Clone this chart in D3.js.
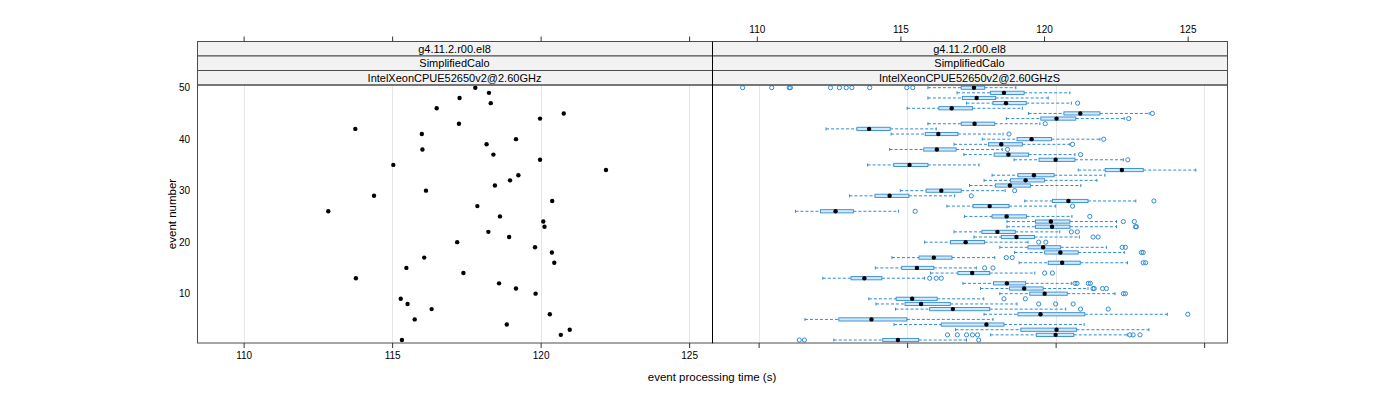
<!DOCTYPE html>
<meta charset="utf-8">
<style>
body { margin: 0; background: #fff; }
svg text { font-family: "Liberation Sans", Arial, sans-serif; fill: #000; }
.axis path { fill: none; stroke: none; }
.axis line { stroke: #333; }
</style>
<head>
    <title>Event processing time</title>
</head>

<script src="https://d3js.org/d3.v7.min.js"></script>

<div id="viz"></div>

<script>
// event number (y categories)
var eventNumber = [1,2,3,4,5,6,7,8,9,10,11,12,13,14,15,16,17,18,19,20,21,22,23,24,25,
                   26,27,28,29,30,31,32,33,34,35,36,37,38,39,40,41,42,43,44,45,46,47,48,49,50];

// left panel: one time per event (s)
var timeIntel = [115.33,120.68,120.98,118.86,115.76,120.31,116.33,115.52,115.29,119.83,
                 119.17,118.60,113.78,117.40,115.48,120.46,116.08,120.38,119.81,117.19,
                 118.94,118.24,120.13,120.09,118.63,112.85,117.87,120.39,114.39,116.14,
                 118.46,118.97,119.25,122.20,115.04,119.98,118.41,116.02,118.18,119.17,
                 116.00,113.76,117.25,119.98,120.78,116.50,118.32,117.27,118.26,117.80];

// right panel: box and whisker stats per event
var boxLow  = [112.53,117.81,116.63,114.56,111.56,117.59,114.61,113.95,113.71,118.12,
               117.47,116.88,112.16,115.79,113.93,118.77,114.49,118.62,118.12,115.59,
               117.25,116.58,118.36,118.36,116.93,111.24,116.34,118.96,113.06,114.77,
               117.10,117.59,117.86,120.76,113.67,118.60,116.91,114.41,116.58,117.53,
               114.46,112.27,115.70,118.34,119.09,115.00,117.00,115.70,116.68,115.70];
var boxQ1   = [114.18,119.35,118.83,116.15,112.70,118.73,115.76,114.93,114.63,119.13,
               118.45,117.91,113.11,116.71,114.82,119.75,115.40,119.63,119.07,116.46,
               118.17,117.52,119.32,119.32,117.86,112.08,117.22,119.89,113.92,115.64,
               117.97,118.48,118.73,121.67,114.55,119.44,117.93,115.56,117.74,118.70,
               115.61,113.31,116.82,119.50,120.28,116.07,117.89,116.86,117.81,116.82];
var boxMed  = [114.69,120.00,120.03,117.67,113.80,119.49,116.54,115.47,115.17,119.63,
               118.94,118.36,113.56,117.19,115.33,120.22,115.90,120.16,119.58,116.97,
               118.68,118.04,119.88,119.84,118.35,112.59,117.78,120.43,114.41,116.15,
               118.46,118.99,119.27,122.23,115.08,120.00,118.41,116.00,118.17,119.19,
               116.05,113.72,117.27,120.03,120.83,116.50,118.33,117.34,118.26,117.25];
var boxQ3   = [115.39,120.61,120.70,118.26,114.99,120.98,117.78,116.45,116.01,120.39,
               119.58,118.99,114.15,117.78,115.90,120.83,116.51,120.76,120.17,117.61,
               119.29,118.64,120.48,120.48,119.02,113.19,118.43,121.09,115.06,116.82,
               119.15,119.63,119.95,122.95,115.70,120.65,119.09,116.65,118.88,119.86,
               116.71,114.43,117.95,120.68,121.49,117.20,119.01,117.98,118.94,117.61];
var boxHigh = [117.00,122.41,123.14,120.96,117.89,123.76,120.34,118.70,117.58,122.00,
               121.09,120.53,115.59,119.30,117.33,122.42,117.95,122.31,121.71,119.07,
               120.80,120.14,122.05,122.05,120.55,114.71,120.00,122.70,116.60,118.30,
               120.85,121.39,121.66,124.72,117.42,122.28,120.65,118.20,120.48,121.49,
               118.23,115.98,119.47,122.31,123.15,118.88,120.53,119.75,120.48,118.66];
var boxOut = [
  [111.37,111.54,117.41],
  [116.36,116.69,117.00,117.20,117.37,122.50,122.61,122.84],
  [], [], [],
  [124.45],
  [120.84,121.77],
  [119.43,120.00,120.59],
  [118.26,118.98],
  [122.28,122.35],
  [121.26,121.30,121.58,121.71],
  [120.65,120.72,121.10,121.17],
  [115.76,115.98,116.15],
  [119.63,119.89],
  [117.61,117.89],
  [122.95,123.03],
  [118.34,118.54],
  [122.89,122.95],
  [122.24,122.35],
  [119.43,119.67],
  [121.26,121.43],
  [120.53,120.73],
  [122.69,122.72],
  [122.28,122.65],
  [121.15],
  [115.27],
  [120.57],
  [123.31],
  [117.16],
  [118.62],
  [], [], [], [], [],
  [122.43],
  [120.84],
  [118.38],
  [120.57],
  [121.62],
  [118.43],
  [],
  [119.65],
  [122.46],
  [123.26],
  [],
  [120.74],
  [], [],
  [109.46,110.44,111.03,111.07,112.42,112.72,112.95,113.14,113.74,114.99,115.19]
];

var xTicks = [110, 115, 120, 125];
var yTicks = [10, 20, 30, 40, 50];
var stripLeft  = ["g4.11.2.r00.el8", "SimplifiedCalo", "IntelXeonCPUE52650v2@2.60GHz"];
var stripRight = ["g4.11.2.r00.el8", "SimplifiedCalo", "IntelXeonCPUE52650v2@2.60GHzS"];

var width = 1400, height = 400;
var panelTop = 85, panelBottom = 343;
var stripTop = 41.5, stripH = 14.5;
var p1 = [197, 712], p2 = [712, 1227];
var blue = "#2f8ad6";

var svg = d3.select('#viz')
    .append('svg')
        .attr('width', width)
        .attr('height', height);

svg.append('rect').attr('width', width).attr('height', height).attr('fill', '#fff');

var xL = d3.scaleLinear().domain([108.43, 125.77]).range(p1);
var xR = d3.scaleLinear().domain([108.43, 125.77]).range(p2);
var xTop = d3.scaleLinear().domain([108.44, 126.37]).range(p2);
var y = d3.scaleLinear().domain([0.42, 50.52]).range([panelBottom, panelTop]);

// gridlines
[xL, xR].forEach(function(sc) {
  svg.append('g')
    .selectAll('line')
    .data(xTicks)
    .enter()
    .append('line')
      .attr('x1', function(d) { return Math.round(sc(d)) + 0.5; })
      .attr('x2', function(d) { return Math.round(sc(d)) + 0.5; })
      .attr('y1', panelTop)
      .attr('y2', panelBottom)
      .attr('stroke', '#e6e6e6');
});

// left panel dots
svg.append('g')
  .selectAll('circle')
  .data(eventNumber)
  .enter()
  .append('circle')
    .attr('cx', function(d, i) { return xL(timeIntel[i]); })
    .attr('cy', function(d) { return y(d); })
    .attr('r', 2.2)
    .attr('fill', '#000');

// right panel box plots
var bw = svg.append('g');
eventNumber.forEach(function(ev, i) {
  var yy = y(ev), g = bw.append('g');
  g.append('line')
    .attr('x1', xR(boxLow[i])).attr('x2', xR(boxQ1[i]))
    .attr('y1', yy).attr('y2', yy)
    .attr('stroke', blue).attr('stroke-dasharray', '3,2');
  g.append('line')
    .attr('x1', xR(boxQ3[i])).attr('x2', xR(boxHigh[i]))
    .attr('y1', yy).attr('y2', yy)
    .attr('stroke', blue).attr('stroke-dasharray', '3,2');
  [boxLow[i], boxHigh[i]].forEach(function(v) {
    g.append('line')
      .attr('x1', xR(v)).attr('x2', xR(v))
      .attr('y1', yy - 1.5).attr('y2', yy + 1.5)
      .attr('stroke', blue);
  });
  g.append('rect')
    .attr('x', xR(boxQ1[i]))
    .attr('y', yy - 1.6)
    .attr('width', xR(boxQ3[i]) - xR(boxQ1[i]))
    .attr('height', 3.2)
    .attr('fill', '#d2e9f9')
    .attr('stroke', blue)
    .attr('stroke-width', 0.9);
  g.selectAll('circle.out')
    .data(boxOut[i])
    .enter()
    .append('circle')
      .attr('cx', function(d) { return xR(d); })
      .attr('cy', yy)
      .attr('r', 2.1)
      .attr('fill', 'none')
      .attr('stroke', blue);
  g.append('circle')
    .attr('cx', xR(boxMed[i]))
    .attr('cy', yy)
    .attr('r', 2.2)
    .attr('fill', '#000');
});

// strips
[[p1, stripLeft], [p2, stripRight]].forEach(function(s) {
  var r = s[0];
  s[1].forEach(function(lab, k) {
    svg.append('rect')
      .attr('x', r[0] + 0.5)
      .attr('y', stripTop + k * stripH)
      .attr('width', r[1] - r[0])
      .attr('height', stripH)
      .attr('fill', '#f2f2f2')
      .attr('stroke', '#4d4d4d');
    svg.append('text')
      .attr('x', (r[0] + r[1]) / 2)
      .attr('y', stripTop + k * stripH + stripH / 2 + 4)
      .attr('text-anchor', 'middle')
      .style('font-size', '11px')
      .text(lab);
  });
});

// panel borders
[p1, p2].forEach(function(r) {
  svg.append('rect')
    .attr('x', r[0] + 0.5)
    .attr('y', panelTop)
    .attr('width', r[1] - r[0])
    .attr('height', panelBottom - panelTop)
    .attr('fill', 'none')
    .attr('stroke', '#4d4d4d');
});
svg.append('line')
  .attr('x1', p1[1] + 0.5).attr('x2', p1[1] + 0.5)
  .attr('y1', stripTop).attr('y2', panelBottom)
  .attr('stroke', '#000');

// axes
svg.append('g')
  .attr('class', 'axis')
  .attr('transform', 'translate(0,' + panelBottom + ')')
  .call(d3.axisBottom(xL).tickValues(xTicks).tickSize(5).tickPadding(4))
  .selectAll('text').style('font-size', '10px');
svg.append('g')
  .attr('class', 'axis')
  .attr('transform', 'translate(0,' + panelBottom + ')')
  .call(d3.axisBottom(xR).tickValues(xTicks).tickSize(5).tickFormat(''));
svg.append('g')
  .attr('class', 'axis')
  .attr('transform', 'translate(0,' + stripTop + ')')
  .call(d3.axisTop(xL).tickValues(xTicks).tickSize(5).tickFormat(''));
svg.append('g')
  .attr('class', 'axis')
  .attr('transform', 'translate(0,' + stripTop + ')')
  .call(d3.axisTop(xTop).tickValues(xTicks).tickSize(5).tickPadding(4))
  .selectAll('text').style('font-size', '10px');
svg.append('g')
  .attr('class', 'axis')
  .attr('transform', 'translate(' + p1[0] + ',0)')
  .call(d3.axisLeft(y).tickValues(yTicks).tickSize(0).tickPadding(7))
  .selectAll('text').style('font-size', '10px');

// axis titles
svg.append('text')
  .attr('x', (p1[0] + p2[1]) / 2)
  .attr('y', 381)
  .attr('text-anchor', 'middle')
  .style('font-size', '11.5px')
  .text('event processing time (s)');
svg.append('text')
  .attr('transform', 'translate(176,' + ((panelTop + panelBottom) / 2) + ') rotate(-90)')
  .attr('text-anchor', 'middle')
  .style('font-size', '11.5px')
  .text('event number');
</script>
